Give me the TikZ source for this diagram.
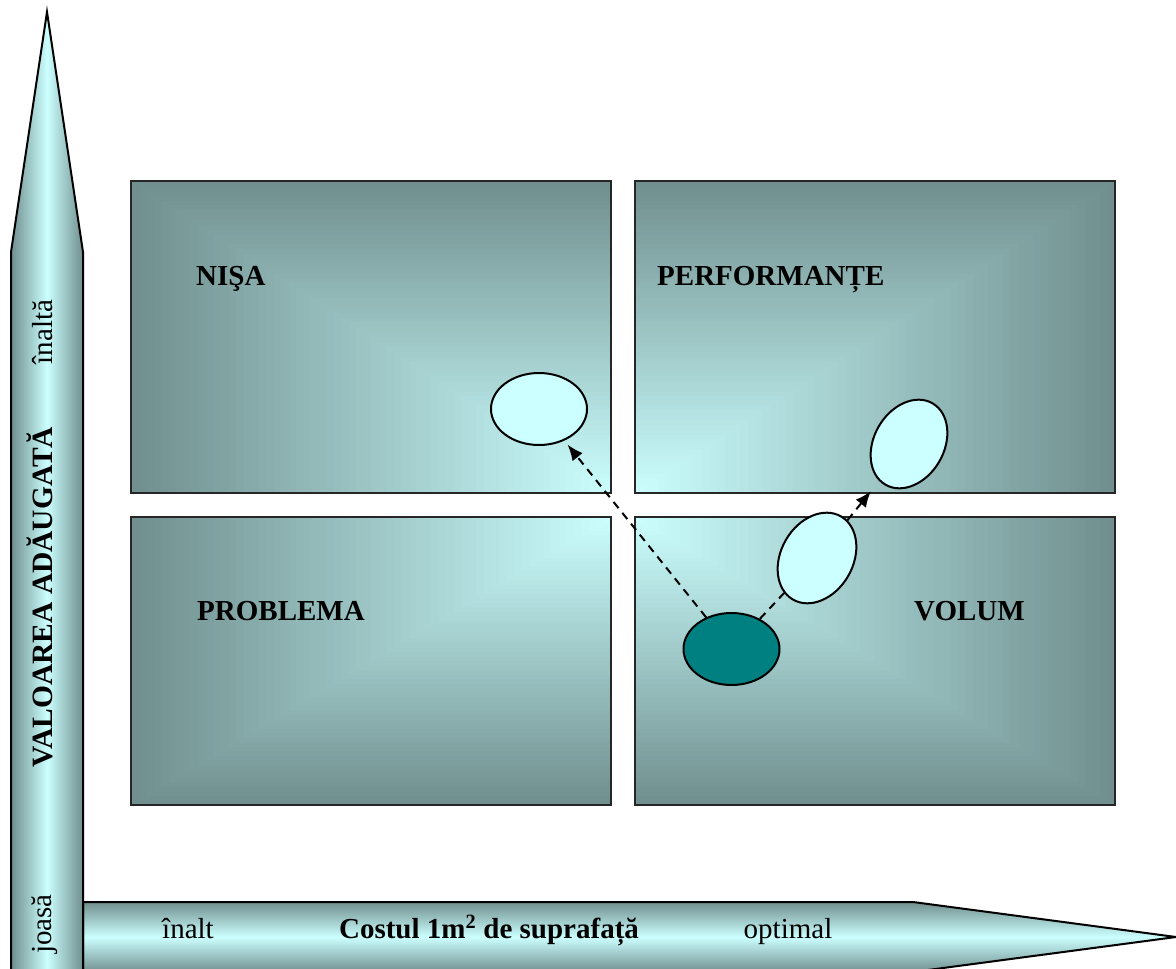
\documentclass[tikz,border=0pt]{standalone}
\usepackage{fontspec}
\setmainfont{Liberation Serif}
\usetikzlibrary{shapes.geometric,arrows.meta}
\definecolor{dk}{RGB}{112,143,142}
\definecolor{lt}{RGB}{204,255,255}
\definecolor{tealfill}{RGB}{0,128,128}
% #1,#2: light corner; #3,#4: far (dark) corner
\newcommand{\gradbox}[4]{%
  \foreach \k in {0,...,63}{%
    \pgfmathsetmacro{\tt}{1-\k/64}%
    \pgfmathsetmacro{\pp}{100*\tt}%
    \fill[dk!\pp!lt] (#1,#2) rectangle ({#1+(#3-#1)*\tt},{#2+(#4-#2)*\tt});
  }%
}
\begin{document}
\begin{tikzpicture}[x=1pt,y=-1pt,
  quad/.style={draw=black!85, line width=1.5pt, inner sep=0pt, minimum width=480pt},
  lbl/.style={font=\fontsize{29}{34}\selectfont\bfseries, anchor=base west, inner sep=0pt},
  axlbl/.style={font=\fontsize{29}{34}\selectfont, anchor=base, inner sep=0pt},
  oval/.style={ellipse, draw=black, line width=2pt, fill=lt, inner sep=0pt, minimum width=96pt, minimum height=72pt},
  link/.style={draw=black, line width=2pt, dash pattern=on 8pt off 6pt},
  tipped/.style={-{Latex[length=16pt,width=13pt]}},
  axis/.style={draw=black, line width=2pt, line join=miter}]
\useasboundingbox (0,0) rectangle (1176,969);
\fill[white] (0,0) rectangle (1176,969);
\clip (0,0) rectangle (1176,969);

% quadrant gradients
\gradbox{611}{493}{131}{181}
\gradbox{635}{493}{1115}{181}
\gradbox{611}{517}{131}{805}
\gradbox{635}{517}{1115}{805}

% quadrant frames
\node[quad, minimum height=312pt] (nw) at (371,337) {};
\node[quad, minimum height=312pt] (ne) at (875,337) {};
\node[quad, minimum height=288pt] (sw) at (371,661) {};
\node[quad, minimum height=288pt] (se) at (875,661) {};

% quadrant labels
\node[lbl] (tnisa) at (196,285) {NIŞA};
\node[lbl] (tperf) at (657,285) {PERFORMANȚE};
\node[lbl] (tprob) at (197,620) {PROBLEMA};
\node[lbl] (tvol) at (914,620) {VOLUM};

% horizontal axis arrow
\path[axis, top color=dk, bottom color=dk, middle color=lt]
  (83,902) -- (913,902) -- (1176,937) -- (913,972) -- (83,972) -- cycle;
% vertical axis arrow
\path[axis, left color=dk, right color=dk, middle color=lt]
  (11,980) -- (11,252) -- (47,12) -- (83,252) -- (83,980) -- cycle;

% axis labels
\node[axlbl] (hlow) at (188,938) {înalt};
\node[axlbl, font=\fontsize{29}{34}\selectfont\bfseries] (htitle) at (489,938) {Costul 1m\textsuperscript{2} de suprafață};
\node[axlbl] (hhigh) at (788,938) {optimal};
\node[axlbl, rotate=90] (vhigh) at (52,332) {înaltă};
\node[axlbl, rotate=90, font=\fontsize{29.5}{34}\selectfont\bfseries] (vtitle) at (52,597) {VALOAREA ADĂUGATĂ};
\node[axlbl, rotate=90] (vlow) at (51,924) {joasă};

% ellipses
\node[oval] (nisa) at (539,409) {};
\node[oval, rotate=60, minimum width=94pt, minimum height=70pt] (perf) at (909,444) {};
\node[oval, rotate=60] (mid) at (817,558) {};
\node[oval, fill=tealfill] (start) at (731.5,649) {};

% connectors
\draw[link, tipped, shorten >=5pt] (start) -- (nisa);
\draw[link] (start) -- (mid);
\draw[link, tipped, shorten >=13pt] (mid) -- (perf);
\end{tikzpicture}
\end{document}
